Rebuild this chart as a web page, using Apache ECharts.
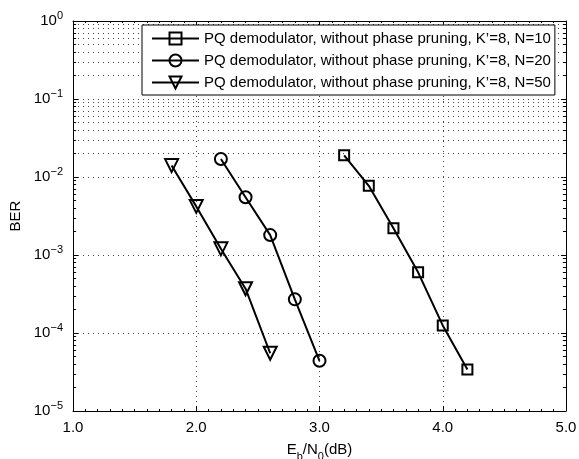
<!DOCTYPE html>
<html>
<head>
<meta charset="utf-8">
<script src="https://cdn.jsdelivr.net/npm/echarts@6/dist/echarts.min.js"></script>
<style>
  html, body { margin: 0; padding: 0; background: #fff; }
  #chart { width: 579px; height: 459px; }
</style>
</head>
<body>
<div id="chart"></div>
<script>
// BER vs Eb/N0 for the PQ demodulator, three N values

const xTicks = [1.0, 2.0, 3.0, 4.0, 5.0];
const yDecades = [1e-5, 1e-4, 1e-3, 1e-2, 1e-1, 1e0];

const names = [
    'PQ demodulator, without phase pruning, K\u2019=8, N=10',
    'PQ demodulator, without phase pruning, K\u2019=8, N=20',
    'PQ demodulator, without phase pruning, K\u2019=8, N=50'
];

const ebn0_N10 = [3.2, 3.4, 3.6, 3.8, 4.0, 4.2];
const ber_N10 = [1.9e-2, 7.7e-3, 2.2e-3, 6.0e-4, 1.25e-4, 3.4e-5];

const ebn0_N20 = [2.2, 2.4, 2.6, 2.8, 3.0];
const ber_N20 = [1.7e-2, 5.5e-3, 1.8e-3, 2.7e-4, 4.4e-5];

const ebn0_N50 = [1.8, 2.0, 2.2, 2.4, 2.6];
const ber_N50 = [1.4e-2, 4.2e-3, 1.2e-3, 3.7e-4, 5.5e-5];

const font = 'Liberation Sans, Arial, Helvetica, sans-serif';

// minor log grid values (2..9 per decade)
const minorVals = [];
yDecades.slice(0, -1).forEach(d => {
    for (let k = 2; k <= 9; k++) minorVals.push(d * k);
});

const pairs = (xs, ys) => xs.map((x, i) => [x, ys[i]]);

const chart = echarts.init(document.getElementById('chart'), null, { renderer: 'canvas' });

const supLabel = v => {
    const e = Math.round(Math.log10(v));
    const s = e < 0 ? '\u2212' + (-e) : String(e);
    return '{b|10}{s|' + s + '}';
};

const baseSeries = (name, xs, ys, symbol, size, rotate) => ({
    name: name,
    type: 'line',
    data: pairs(xs, ys),
    symbol: symbol,
    symbolSize: size,
    symbolRotate: rotate || 0,
    showAllSymbol: true,
    lineStyle: { color: '#000', width: 2 },
    itemStyle: { color: 'rgba(255,255,255,0)', borderColor: '#000', borderWidth: 2 },
    emphasis: { disabled: true },
    z: 5
});

const option = {
    backgroundColor: '#fff',
    animation: false,
    textStyle: { fontFamily: font },
    grid: { left: 73, right: 13, top: 21, bottom: 48, show: false, containLabel: false, outerBoundsMode: 'none' },
    legend: {
        left: 142,
        top: 25,
        orient: 'vertical',
        backgroundColor: '#fff',
        borderColor: '#000',
        borderWidth: 1,
        padding: [6, 4, 5, 9],
        itemGap: 7,
        itemWidth: 47,
        itemHeight: 15,
        textStyle: { fontSize: 15, color: '#000', fontFamily: font },
        data: names,
        z: 10
    },
    xAxis: [{
        type: 'value',
        min: 1,
        max: 5,
        interval: 1,
        name: '{a|E}{s|b}{a|/N}{s|0}{a|(dB)}',
        nameLocation: 'middle',
        nameGap: 27,
        nameTextStyle: {
            rich: {
                a: { fontSize: 15, color: '#000', fontFamily: font, lineHeight: 24 },
                s: { fontSize: 11, color: '#000', fontFamily: font, lineHeight: 10, verticalAlign: 'bottom' }
            }
        },
        axisLine: { lineStyle: { color: '#000', width: 1 } },
        axisTick: { inside: true, length: 5, lineStyle: { color: '#000' } },
        minorTick: { show: true, splitNumber: 10, length: 2, lineStyle: { color: '#000' } },
        axisLabel: {
            color: '#000', fontSize: 15, margin: 9,
            formatter: v => v.toFixed(1)
        },
        splitLine: { show: true, lineStyle: { color: '#444', type: [1, 4], width: 1 } }
    }, {
        type: 'value',
        position: 'top',
        min: 1,
        max: 5,
        interval: 1,
        axisLine: { show: true, lineStyle: { color: '#000', width: 1 } },
        axisTick: { show: true, inside: true, length: 5, lineStyle: { color: '#000' } },
        minorTick: { show: true, splitNumber: 10, length: 2, lineStyle: { color: '#000' } },
        axisLabel: { show: false },
        splitLine: { show: false }
    }],
    yAxis: [{
        type: 'log',
        logBase: 10,
        min: 1e-5,
        max: 1,
        name: 'BER',
        nameLocation: 'middle',
        nameGap: 50,
        nameTextStyle: { fontSize: 15, color: '#000', fontFamily: font },
        axisLine: { show: true, lineStyle: { color: '#000', width: 1 } },
        axisTick: { show: true, inside: true, length: 5, lineStyle: { color: '#000' } },
        axisLabel: {
            color: '#000', margin: 10,
            formatter: supLabel,
            rich: {
                b: { fontSize: 15, color: '#000', fontFamily: font, lineHeight: 22 },
                s: { fontSize: 11, color: '#000', fontFamily: font, lineHeight: 10, verticalAlign: 'top' }
            }
        },
        splitLine: { show: true, lineStyle: { color: '#444', type: [1, 4], width: 1 } }
    }, {
        type: 'log',
        logBase: 10,
        min: 1e-5,
        max: 1,
        position: 'right',
        axisLine: { show: true, lineStyle: { color: '#000', width: 1 } },
        axisTick: { show: true, inside: true, length: 5, lineStyle: { color: '#000' } },
        axisLabel: { show: false },
        splitLine: { show: false }
    }],
    series: [
        Object.assign(baseSeries(names[0], ebn0_N10, ber_N10, 'rect', 10), {
            markLine: {
                silent: true,
                symbol: 'none',
                label: { show: false },
                animation: false,
                lineStyle: { color: '#444', type: [1, 4], width: 1 },
                data: minorVals.map(v => ({ yAxis: v }))
                    .concat(minorVals.map(v => [
                        { coord: [1, v], lineStyle: { color: '#000', type: 'solid' } },
                        { coord: [1.025, v] }
                    ]))
                    .concat(minorVals.map(v => [
                        { coord: [4.975, v], lineStyle: { color: '#000', type: 'solid' } },
                        { coord: [5, v] }
                    ]))
            }
        }),
        baseSeries(names[1], ebn0_N20, ber_N20, 'circle', 12),
        baseSeries(names[2], ebn0_N50, ber_N50, 'triangle', 13, 180)
    ]
};

chart.setOption(option);
</script>
</body>
</html>
